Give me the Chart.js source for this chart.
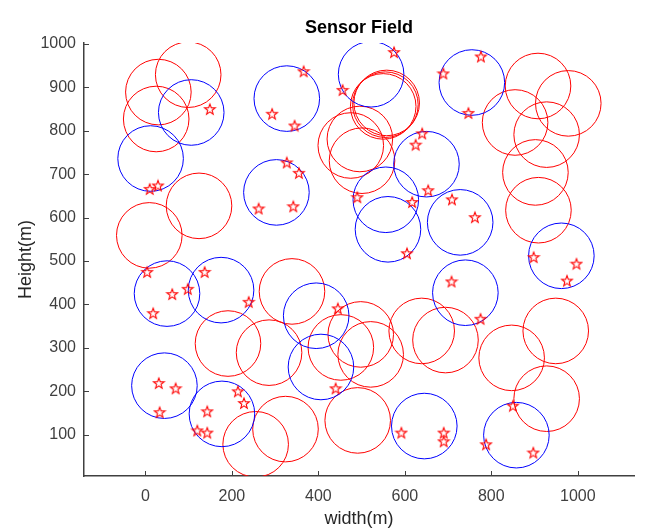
<!DOCTYPE html>
<html>
<head>
<meta charset="utf-8">
<script src="https://cdn.jsdelivr.net/npm/chart.js@4.4.1/dist/chart.umd.min.js"></script>
<style>
html,body{margin:0;padding:0;background:#ffffff;}
canvas{display:block;}
</style>
</head>
<body>
<canvas id="c" width="648" height="532"></canvas>
<script>
// ---------- data ----------
const xTicks = [0, 200, 400, 600, 800, 1000];
const yTicks = [100, 200, 300, 400, 500, 600, 700, 800, 900, 1000];
const sensorRadius = 75.5; // sensing range (m)

// red sensor circles (centres)
const redX = [99, 30, 25, 124, 9, 550, 555, 558, 475, 496, 501, 908, 978, 855, 928, 902, 909,
              339, 191, 286, 452, 498, 521, 639, 694, 949, 847, 928, 255, 324, 491];
const redY = [929, 889, 827, 627, 559, 856, 860, 864, 766, 781, 731, 903, 863, 819, 791, 704, 617,
              430, 310, 289, 301, 331, 285, 339, 318, 339, 277, 183, 78, 113, 133];

// blue sensor circles (centres)
const blueX = [106, 12, 327, 303, 522, 755, 650, 556, 561, 728, 962, 50, 175, 395, 406, 44, 177, 740, 645, 858];
const blueY = [842, 736, 874, 658, 930, 911, 723, 641, 573, 589, 512, 425, 433, 374, 256, 213, 148, 427, 120, 99];

// target points (pentagrams)
const starX = [149, 293, 345, 366, 10, 29, 327, 355, 262, 342, 456, 490, 575, 776, 689, 747, 640, 625, 654, 617,
               709, 762, 4, 137, 98, 62, 18, 239, 445, 440, 31, 70, 33, 214, 228, 143, 120, 143, 605, 898,
               997, 975, 708, 775, 850, 592, 690, 690, 788, 897];
const starY = [850, 839, 812, 937, 666, 674, 727, 703, 621, 626, 894, 647, 981, 971, 932, 841, 794, 768, 663, 636,
               642, 601, 475, 475, 436, 424, 380, 406, 391, 207, 219, 207, 152, 200, 173, 154, 110, 105, 518, 509,
               494, 455, 453, 367, 167, 105, 105, 85, 78, 59];

// ---------- helpers ----------
const toPoints = (xs, ys) => xs.map((x, i) => ({ x: x, y: ys[i] }));
const axisColor = '#404040';
const fontFamily = "'Liberation Sans', Arial, Helvetica, sans-serif";

function pentagram() {
  const s = 14;
  const c = document.createElement('canvas');
  c.width = s; c.height = s;
  const g = c.getContext('2d');
  g.strokeStyle = '#ff0000';
  g.lineWidth = 1.1;
  g.lineJoin = 'miter';
  g.beginPath();
  for (let i = 0; i < 10; i++) {
    const r = (i % 2) ? 2.3 : 5.6;
    const a = -Math.PI / 2 + i * Math.PI / 5;
    const px = s / 2 + r * Math.cos(a);
    const py = s / 2 + 0.6 + r * Math.sin(a);
    if (i === 0) g.moveTo(px, py); else g.lineTo(px, py);
  }
  g.closePath();
  g.stroke();
  return c;
}
const starImg = pentagram();

const circleRadiusPx = (ctx) => {
  const ys = ctx.chart.scales.y;
  if (!ys) return 30;
  return Math.abs(ys.getPixelForValue(0) - ys.getPixelForValue(sensorRadius));
};

const inwardTicks = {
  id: 'inwardTicks',
  afterDraw(chart) {
    const { ctx, chartArea: a, scales } = chart;
    ctx.save();
    ctx.strokeStyle = axisColor;
    ctx.lineWidth = 1;
    ctx.beginPath();
    xTicks.forEach(v => {
      const p = Math.round(scales.x.getPixelForValue(v)) + 0.5;
      ctx.moveTo(p, a.bottom);
      ctx.lineTo(p, a.bottom - 5);
    });
    yTicks.forEach(v => {
      const p = Math.round(scales.y.getPixelForValue(v)) + 0.5;
      ctx.moveTo(a.left, p);
      ctx.lineTo(a.left + 5, p);
    });
    ctx.stroke();
    ctx.restore();
  }
};

new Chart(document.getElementById('c'), {
  type: 'scatter',
  data: {
    datasets: [
      {
        label: 'Targets',
        data: toPoints(starX, starY),
        pointStyle: starImg,
        pointRadius: 6,
        showLine: false
      },
      {
        label: 'Blue sensors',
        data: toPoints(blueX, blueY),
        pointStyle: 'circle',
        pointRadius: circleRadiusPx,
        pointBackgroundColor: 'rgba(0,0,0,0)',
        pointBorderColor: '#0000ff',
        pointBorderWidth: 1,
        showLine: false
      },
      {
        label: 'Red sensors',
        data: toPoints(redX, redY),
        pointStyle: 'circle',
        pointRadius: circleRadiusPx,
        pointBackgroundColor: 'rgba(0,0,0,0)',
        pointBorderColor: '#ff0000',
        pointBorderWidth: 1,
        showLine: false
      }
    ]
  },
  options: {
    responsive: false,
    animation: false,
    events: [],
    layout: { padding: { left: 0, right: 14, top: 0, bottom: 0 } },
    plugins: {
      legend: { display: false },
      tooltip: { enabled: false },
      title: {
        display: true,
        text: 'Sensor Field',
        fullSize: false,
        color: '#000000',
        font: { family: fontFamily, size: 18, weight: 'bold' },
        padding: { top: 17, bottom: 4.4 }
      }
    },
    scales: {
      x: {
        type: 'linear',
        min: -142,
        max: 1130,
        afterBuildTicks: (s) => { s.ticks = xTicks.map(v => ({ value: v })); },
        afterFit: (s) => { s.height = 56; },
        grid: { display: false, drawTicks: false },
        border: { display: true, color: axisColor, width: 1.5 },
        ticks: { color: axisColor, font: { family: fontFamily, size: 16 }, padding: 11, maxRotation: 0,
                 callback: (v) => String(v) },
        title: {
          display: true,
          text: 'width(m)',
          color: '#262626',
          font: { family: fontFamily, size: 18 },
          padding: { top: 0, bottom: 2 }
        }
      },
      y: {
        type: 'linear',
        min: 5,
        max: 1002,
        afterBuildTicks: (s) => { s.ticks = yTicks.map(v => ({ value: v })); },
        afterFit: (s) => { s.width = 84; },
        grid: { display: false, drawTicks: false },
        border: { display: true, color: axisColor, width: 1.5 },
        ticks: { color: axisColor, font: { family: fontFamily, size: 16 }, padding: 8,
                 callback: (v) => String(v) },
        title: {
          display: true,
          text: 'Height(m)',
          color: '#262626',
          font: { family: fontFamily, size: 18 },
          padding: { top: 15, bottom: 0 }
        }
      }
    }
  },
  plugins: [inwardTicks]
});
</script>
</body>
</html>
